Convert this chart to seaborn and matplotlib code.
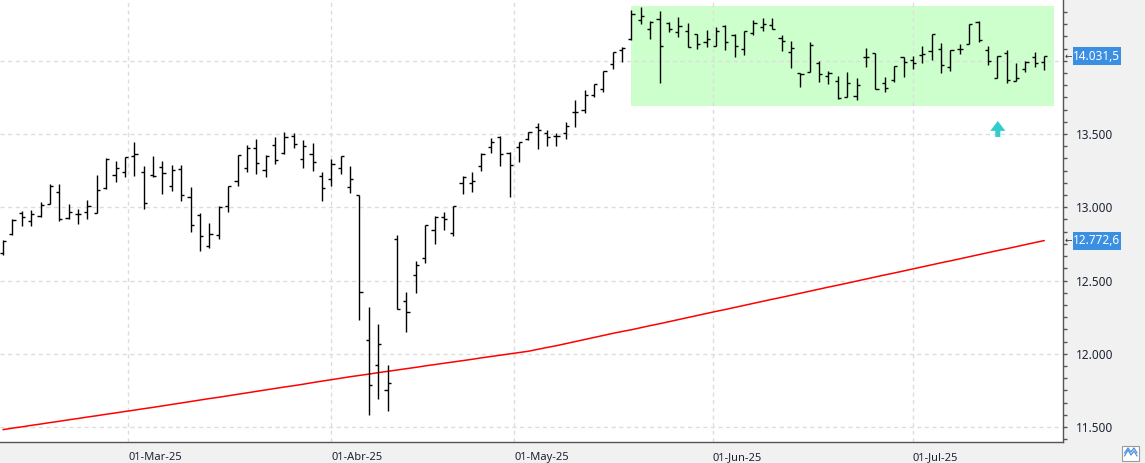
import numpy as np
import pandas as pd
import matplotlib
matplotlib.use("Agg")
import matplotlib.pyplot as plt
import matplotlib.transforms as mtransforms
from matplotlib.patches import Rectangle, Polygon
from matplotlib.ticker import MultipleLocator, FuncFormatter
import seaborn as sns

# ---------------- data ----------------
holidays = ["2025-04-18", "2025-04-21", "2025-05-01"]
dates = [d for d in pd.bdate_range("2025-02-11", "2025-07-21") if d.strftime("%Y-%m-%d") not in holidays]

open_ = [12690, 12815, 12961, 12904, 12938, 13020, 13102, 12924, 12954, 12968,
         12959, 13129, 13220, 13238, 13348, 13243, 13222, 13275, 13143, 13259,
         13068, 12945, 12738, 12808, 13006, 13177, 13266, 13402, 13252, 13423,
         13368, 13486, 13327, 13363, 13216, 13191, 13266, 13136, 13081, 12094,
         11921, 11750, 12781, 12358, 12538, 12651, 12845, 12931, 12826, 13163,
         13166, 13282, 13411, 13480, 13373, 13411, 13468, 13548, 13507, 13486,
         13505, 13648, 13662, 13769, 13805, 13978, 14071, 14146, 14276, 14219,
         14283, 14255, 14194, 14203, 14180, 14128, 14098, 14239, 14178, 14080,
         14189, 14228, 14244, 14153, 14060, 13916, 13921, 13987, 13898, 13862,
         13750, 13759, 14028, 14053, 13850, 13866, 14023, 14005, 14042, 14067,
         14083, 13957, 14080, 14112, 14265, 14076, 13885, 14055, 13864, 13941,
         14028, 13989]
high = [12776, 12918, 12974, 12979, 13036, 13156, 13156, 13020, 12986, 13047,
        13220, 13334, 13316, 13341, 13443, 13279, 13350, 13316, 13288, 13288,
        13138, 12959, 12890, 13006, 13145, 13359, 13427, 13466, 13357, 13477,
        13511, 13505, 13459, 13439, 13243, 13327, 13350, 13282, 13081, 12319,
        12203, 11923, 12811, 12421, 12633, 12879, 12940, 12965, 13009, 13213,
        13241, 13373, 13473, 13486, 13379, 13443, 13516, 13573, 13525, 13505,
        13580, 13732, 13800, 13839, 13930, 14057, 14092, 14344, 14369, 14271,
        14340, 14267, 14299, 14255, 14183, 14210, 14228, 14244, 14185, 14201,
        14280, 14290, 14290, 14178, 14133, 13916, 14126, 13996, 13930, 13896,
        13923, 13880, 14085, 14055, 13887, 13962, 14023, 14035, 14098, 14180,
        14119, 14071, 14112, 14249, 14269, 14103, 14035, 14076, 13985, 13996,
        14057, 14030]
low = [12674, 12811, 12874, 12874, 12936, 13020, 12908, 12922, 12886, 12922,
       12959, 13125, 13175, 13207, 13216, 12990, 13204, 13093, 13113, 13045,
       12833, 12704, 12724, 12786, 12970, 13147, 13243, 13229, 13209, 13298,
       13366, 13407, 13270, 13250, 13045, 13147, 13229, 13100, 12230, 11584,
       11693, 11612, 12303, 12151, 12417, 12620, 12749, 12847, 12804, 13090,
       13104, 13250, 13373, 13284, 13072, 13311, 13459, 13400, 13420, 13420,
       13468, 13550, 13646, 13750, 13784, 13946, 13994, 14142, 14249, 14151,
       13850, 14194, 14160, 14092, 14080, 14096, 14098, 14076, 14028, 14042,
       14176, 14201, 14214, 14069, 13953, 13823, 13921, 13857, 13841, 13741,
       13750, 13734, 13960, 13805, 13784, 13855, 13891, 13941, 13982, 14005,
       13914, 13930, 14044, 14112, 14126, 13969, 13885, 13850, 13862, 13925,
       13960, 13935]
close = [12772, 12915, 12933, 12952, 13015, 13147, 12918, 12968, 12954, 13011,
         13115, 13329, 13268, 13341, 13361, 13027, 13213, 13232, 13257, 13081,
         12877, 12801, 12815, 13000, 13143, 13354, 13402, 13300, 13352, 13320,
         13477, 13429, 13418, 13307, 13129, 13295, 13348, 13191, 12419, 11784,
         12064, 11800, 12303, 12283, 12604, 12879, 12936, 12920, 13009, 13206,
         13179, 13361, 13448, 13364, 13286, 13443, 13511, 13525, 13480, 13486,
         13552, 13652, 13764, 13839, 13928, 14057, 14089, 14317, 14305, 14267,
         14098, 14214, 14237, 14096, 14112, 14146, 14203, 14126, 14098, 14201,
         14255, 14251, 14214, 14133, 14085, 13907, 14108, 13910, 13919, 13743,
         13846, 13832, 14028, 13805, 13814, 13962, 13992, 13987, 14046, 14180,
         13969, 14071, 14080, 14249, 14139, 14001, 14032, 13871, 13880, 13989,
         13985, 14031.5]
moving_avg = [11482, 11492, 11501, 11511, 11520, 11530, 11539, 11549, 11558, 11568,
              11577, 11587, 11596, 11606, 11615, 11625, 11634, 11644, 11654, 11664,
              11674, 11684, 11694, 11703, 11713, 11723, 11733, 11743, 11753, 11763,
              11773, 11782, 11792, 11803, 11813, 11823, 11833, 11843, 11852, 11861,
              11871, 11880, 11889, 11898, 11907, 11917, 11926, 11935, 11944, 11953,
              11962, 11972, 11981, 11990, 11999, 12008, 12017, 12030, 12043, 12055,
              12069, 12083, 12097, 12111, 12125, 12139, 12152, 12164, 12178, 12192,
              12205, 12219, 12233, 12247, 12261, 12275, 12289, 12302, 12316, 12330,
              12344, 12358, 12372, 12385, 12399, 12413, 12427, 12441, 12455, 12468,
              12482, 12496, 12510, 12524, 12538, 12551, 12565, 12579, 12593, 12607,
              12621, 12634, 12648, 12662, 12676, 12690, 12704, 12717, 12731, 12745,
              12759, 12772.6]

month_starts = ["2025-03-01", "2025-04-01", "2025-05-01", "2025-06-01", "2025-07-01"]
month_labels = ["01-Mar-25", "01-Abr-25", "01-May-25", "01-Jun-25", "01-Jul-25"]

zone_first, zone_last = "2025-05-20", "2025-07-21"   # green range
zone_top, zone_bottom = 14374, 13691
signal_date, signal_tip, signal_base = "2025-07-14", 13589, 13480
last_price_label = "14.031,5"
ma_label = "12.772,6"

# ---------------- figure ----------------
W, H, DPI = 1145, 463, 100
sns.set_style("white")
plt.rcParams["font.family"] = ["Noto Sans", "DejaVu Sans"]

fig = plt.figure(figsize=(W / DPI, H / DPI), dpi=DPI, facecolor="#F1F1F1")
ax = fig.add_axes([0, 21 / H, 1063 / W, 442 / H])
ax.set_facecolor("white")

idx = np.arange(len(dates))
df = pd.DataFrame({"i": idx, "date": dates, "open": open_, "high": high,
                   "low": low, "close": close, "ma": moving_avg})

ax.set_xlim(-0.32, 113.0)
ax.set_ylim(11397.6, 14414.7)

# month tick positions (interpolated in calendar time over trading index)
ords = np.array([d.toordinal() for d in dates])
mpos = [float(np.interp(pd.Timestamp(m).toordinal(), ords, idx)) for m in month_starts]

grid_kw = dict(color="#DDDDDD", lw=1.0, ls=(0, (3, 2.5)), zorder=1)
for y in range(11500, 14001, 500):
    ax.axhline(y, **grid_kw)
for p in mpos:
    ax.axvline(p, **grid_kw)

# green zone
z0 = float(np.interp(pd.Timestamp(zone_first).toordinal(), ords, idx)) - 0.1
z1 = float(np.interp(pd.Timestamp(zone_last).toordinal(), ords, idx)) + 1.05
ax.add_patch(Rectangle((z0, zone_bottom), z1 - z0, zone_top - zone_bottom,
                       facecolor="#CCFFCC", edgecolor="none", zorder=0.5))

# moving average
sns.lineplot(data=df, x="i", y="ma", color="#FF0000", lw=1.1, ax=ax, zorder=3,
             legend=False)

# OHLC bars
lw = 1.0
tick = 0.34
ax.vlines(df["i"], df["low"], df["high"], color="black", lw=lw, zorder=4)
ax.hlines(df["open"], df["i"] - tick, df["i"], color="black", lw=lw, zorder=4)
ax.hlines(df["close"], df["i"], df["i"] + tick, color="black", lw=lw, zorder=4)

# cyan signal arrow
sx = float(np.interp(pd.Timestamp(signal_date).toordinal(), ords, idx)) + 0.05
head_y = signal_tip - (signal_tip - signal_base) * 0.62
arrow = Polygon([(sx, signal_tip), (sx + 0.8, head_y), (sx + 0.27, head_y),
                 (sx + 0.27, signal_base), (sx - 0.27, signal_base),
                 (sx - 0.27, head_y), (sx - 0.8, head_y)],
                closed=True, facecolor="#33CCCC", edgecolor="none", zorder=5)
ax.add_patch(arrow)

# axes styling
for s in ["left", "top"]:
    ax.spines[s].set_visible(False)
for s in ["right", "bottom"]:
    ax.spines[s].set_color("#555555")
    ax.spines[s].set_linewidth(1.0)

# the 14.000 label sits under the last-price box, so it is not shown
hidden = {14000}
ax.yaxis.tick_right()
ax.set_yticks(range(11500, 14001, 500))
ax.yaxis.set_minor_locator(MultipleLocator(500 / 6))
ax.yaxis.set_major_formatter(FuncFormatter(
    lambda v, p: "" if int(round(v)) in hidden else f"{int(round(v)):,}".replace(",", ".")))
ax.tick_params(axis="y", which="both", direction="out", length=3, width=1,
               color="#555555", labelsize=8.5, labelcolor="#1C2433", pad=6, right=True, left=False)

ax.set_xticks(mpos)
ax.set_xticklabels(month_labels)
ax.tick_params(axis="x", which="major", direction="out", length=5, width=1,
               color="#555555", labelsize=8, labelcolor="#1C2433", pad=2)
for lbl in ax.get_xticklabels():
    lbl.set_horizontalalignment("left")
ax.set_xlabel("")
ax.set_ylabel("")

# price boxes on the right axis
bt = mtransforms.blended_transform_factory(fig.transFigure, ax.transData)
box_h = 18 * (14414.7 - 11397.6) / 442
for val, txt in [(close[-1], last_price_label), (moving_avg[-1], ma_label)]:
    fig.patches.append(Rectangle((1072.7 / W, val - box_h / 2), 48.5 / W, box_h,
                                 transform=bt, facecolor="#3B8FE3", edgecolor="none",
                                 zorder=10))
    fig.text(1096.5 / W, val, txt, transform=bt, color="white", fontsize=8.5,
             ha="center", va="center", zorder=11)
    fig.text(1064.5 / W, val, "←", transform=bt, color="#333333", fontsize=6.5,
             ha="left", va="center", family=["DejaVu Sans"], zorder=11)

# small icon bottom right
fig.patches.append(Rectangle((1122 / W, 2.5 / H), 17 / W, 15 / H, transform=fig.transFigure,
                             facecolor="white", edgecolor="#9A9A9A", lw=0.8))
zx = np.array([1124.5, 1128, 1131, 1134, 1137]) / W
fig.lines.append(plt.Line2D(zx, np.array([7, 13, 8, 12, 7]) / H, transform=fig.transFigure,
                            color="#4A90D9", lw=0.9))
fig.lines.append(plt.Line2D(zx, np.array([10, 15, 11, 15, 10]) / H, transform=fig.transFigure,
                            color="#4A90D9", lw=0.9))

fig.savefig("out.png", dpi=DPI, facecolor=fig.get_facecolor())
